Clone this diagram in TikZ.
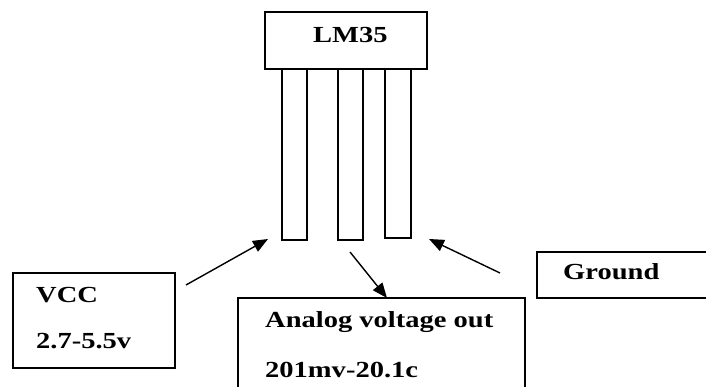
\documentclass[tikz,border=0pt]{standalone}
\usepackage{fontspec}
\setmainfont{Liberation Serif}[FakeStretch=1.24]
\usetikzlibrary{arrows.meta}
\begin{document}
\begin{tikzpicture}[x=1pt,y=-1pt,
  box/.style={draw=black,line width=1.6pt,inner sep=0pt},
  lbl/.style={anchor=base west,inner sep=0pt,font=\bfseries\fontsize{23}{26}\selectfont},
  arr/.style={line width=1.4pt,-{Triangle[length=15pt,width=12pt]}}]
\useasboundingbox (0,0) rectangle (706,387);
\begin{scope}
\clip (0,0) rectangle (706,387);
% LM35 body and pins
\draw[box] (265,12) rectangle (427,69);
\node[box,minimum width=25pt,minimum height=171pt] (p1) at (294.5,154.5) {};
\node[box,minimum width=25pt,minimum height=171pt] (p2) at (350.5,154.5) {};
\node[box,minimum width=26pt,minimum height=169pt] (p3) at (398,153.5) {};
\node[lbl] (lm) at (313,43) {LM35};
% label boxes
\draw[box] (13,273) rectangle (175,368);
\draw[box] (238,298) rectangle (525,395);
\draw[box] (537,252) rectangle (712,298);
\node[lbl] (vcc) at (36,302) {VCC};
\node[lbl] (vccv) at (36,348) {2.7-5.5v};
\node[lbl] (an) at (265,327) {Analog voltage out};
\node[lbl] (anv) at (265,377) {201mv-20.1c};
\node[lbl] (gnd) at (563,279) {Ground};
% arrows
\coordinate (va) at (186,285);
\coordinate (vb) at (268,239);
\coordinate (aa) at (350,252);
\coordinate (ab) at (387,298);
\coordinate (ga) at (500,273);
\coordinate (gb) at (429,239);
\draw[arr] (va) -- (vb);
\draw[arr] (aa) -- (ab);
\draw[arr] (ga) -- (gb);
\end{scope}
\end{tikzpicture}
\end{document}
